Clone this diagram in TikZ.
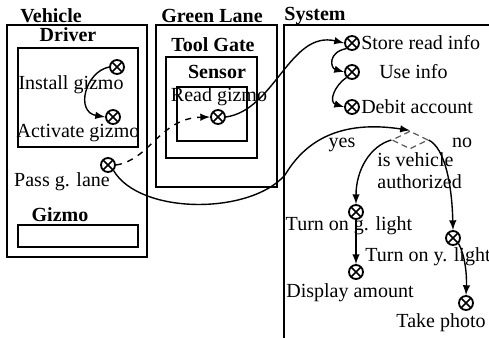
\documentclass[tikz,border=0pt]{standalone}
\usepackage{fontspec}
\setmainfont{Liberation Serif}
\usepackage{tikz}
\usetikzlibrary{positioning,shapes.geometric}

\tikzset{
  lbl/.style={font=\fontsize{10}{11}\selectfont, inner sep=0pt},
  ttl/.style={font=\fontsize{10}{11}\selectfont\bfseries, inner sep=0pt},
  lane/.style={draw, line width=0.9pt},
  act/.style={circle, draw, line width=0.9pt, minimum size=7pt, inner sep=0pt,
    path picture={\draw[line width=0.8pt]
      (path picture bounding box.north west) -- (path picture bounding box.south east)
      (path picture bounding box.north east) -- (path picture bounding box.south west);}},
  flow/.style={->, >=latex, line width=0.7pt},
  choice/.style={diamond, draw=gray!70!black, densely dashed, line width=0.6pt,
    minimum width=18pt, minimum height=9pt, inner sep=0pt},
}

\begin{document}
\begin{tikzpicture}[x=0.5pt, y=-0.5pt]
  % 1 unit = 1 pixel of the scan, y pointing down
  \useasboundingbox (0,0) rectangle (489,338);

  % Swimlanes
  \draw[lane] (7,25) rectangle (147,257);
  \draw[lane] (18,48) rectangle (138,147);
  \draw[lane] (18,225) rectangle (138,247);
  \draw[lane] (156,25) rectangle (277,187);
  \draw[lane] (166,57) rectangle (257,158);
  \draw[lane] (177,87) rectangle (247,141);
  \draw[lane] (489,25) -- (284,25) -- (284,338);

  % Lane titles
  \node[ttl] (vehTitle) at (51,16) {Vehicle};
  \node[ttl] (drvTitle) at (68,35) {Driver};
  \node[ttl] (gizTitle) at (60,215) {Gizmo};
  \node[ttl] (glTitle) at (212,16) {Green Lane};
  \node[ttl] (tgTitle) at (213,45) {Tool Gate};
  \node[ttl] (senTitle) at (217,72) {Sensor};
  \node[ttl] (sysTitle) at (315,16) {System};

  % Vehicle activities
  \node[act] (install) at (117,67) {};
  \node[lbl] (installLbl) at (71,85) {Install gizmo};
  \node[act] (activate) at (113,117) {};
  \node[lbl] (activateLbl) at (78,133) {Activate gizmo};
  \node[act] (pass) at (108,165) {};
  \node[lbl] (passLbl) at (62,182) {Pass g. lane};

  % Green lane activity
  \node[act] (read) at (218,117) {};
  \node[lbl] (readLbl) at (219,97) {Read gizmo};

  % System activities
  \node[act] (store) at (352,43) {};
  \node[lbl, right=0.5pt of store] (storeLbl) {Store read info};
  \node[act] (use) at (352,72) {};
  \node[lbl, right=9.5pt of use] (useLbl) {Use info};
  \node[act] (debit) at (352,107) {};
  \node[lbl, right=0.5pt of debit] (debitLbl) {Debit account};

  % Decision
  \node[choice] (decision) at (410,140) {};
  \node[lbl] (yesLbl) at (342,145) {yes};
  \node[lbl] (noLbl) at (462,143) {no};
  \node[lbl, anchor=west] (condLbl) at (377,160) {is vehicle};
  \node[lbl, anchor=west] (condLblB) at (377,182) {authorized};

  \node[act] (green) at (356,212) {};
  \node[lbl] (greenLbl) at (349,226) {Turn on g. light};
  \node[act] (display) at (356,272) {};
  \node[lbl] (displayLbl) at (350,293) {Display amount};
  \node[act] (yellow) at (453,238) {};
  \node[lbl] (yellowLbl) at (428,257) {Turn on y. light};
  \node[act] (photo) at (466,303) {};
  \node[lbl] (photoLbl) at (441,323) {Take photo};

  % Flows
  \draw[flow] (install.west) .. controls (85,72) and (75,112) .. (activate.west);
  \draw[flow, dashed] (pass.east) .. controls (150,160) and (160,118) .. (read.west);
  \draw[flow] (read.east) .. controls (275,110) and (290,30) .. (store.west);
  \draw[flow] (store.south west) .. controls (328,52) and (330,68) .. (use.west);
  \draw[flow] (use.south west) .. controls (335,85) and (328,102) .. (debit.west);
  \draw[flow] (pass.south east) .. controls (140,215) and (250,215) .. (285,175)
    .. controls (300,150) and (330,118) .. (decision.north);
  \draw[flow] (decision.west) .. controls (370,146) and (356,170) .. (green.north);
  \draw[flow] (decision.east) .. controls (445,148) and (452,185) .. (yellow.north);
  \draw[flow] (green) -- (display);
  \draw[flow] (yellow.south east) .. controls (465,255) and (467,275) .. (photo.north);
\end{tikzpicture}
\end{document}
